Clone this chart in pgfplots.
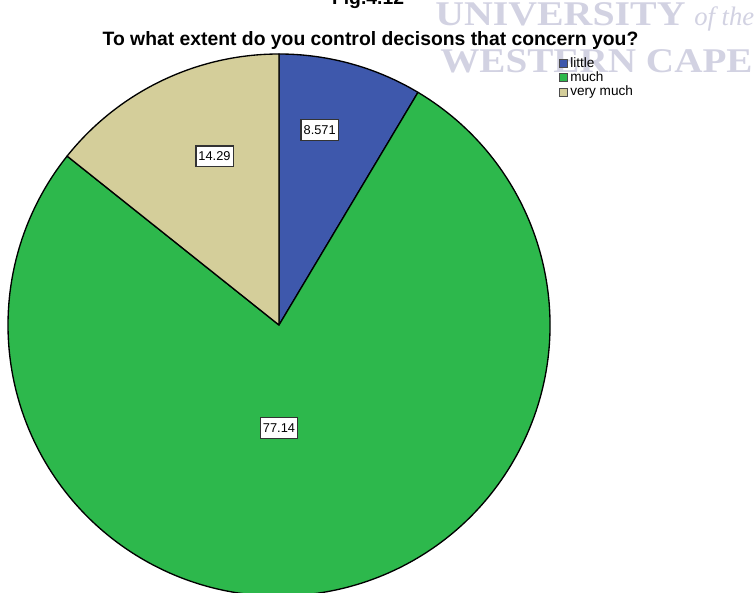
\documentclass[border=0pt]{standalone}
\usepackage{pgfplots}
\pgfplotsset{compat=1.18}
\usepackage{pgfplotstable}
\usepackage{graphicx}
\usepackage{fontspec}
\setmainfont{Liberation Sans}
\newfontfamily\wmfont{Liberation Serif}
\definecolor{pieblue}{RGB}{62,88,172}
\definecolor{piegreen}{RGB}{45,184,76}
\definecolor{pietan}{RGB}{212,206,154}
\definecolor{wm}{RGB}{210,210,226}

\pgfplotstableread{
label value
little 8.571
much 77.14
verymuch 14.29
}\piedata

\begin{document}
\begin{tikzpicture}
\pgfplotstablegetelem{0}{value}\of\piedata \let\va\pgfplotsretval
\pgfplotstablegetelem{1}{value}\of\piedata \let\vb\pgfplotsretval
\pgfplotstablegetelem{2}{value}\of\piedata \let\vc\pgfplotsretval
\pgfmathsetmacro\aA{90-3.6*\va}
\pgfmathsetmacro\aB{\aA-3.6*\vb}
\pgfmathsetmacro\aC{\aB-3.6*\vc}
\def\R{203.25pt}
\begin{axis}[x=0.75pt,y=0.75pt,xmin=0,xmax=755,ymin=0,ymax=592,
  hide axis,scale only axis,clip=false]
% watermark
\node[anchor=base west, text=wm, inner sep=0] at (axis cs:435,566)
  {\wmfont\fontsize{26pt}{30pt}\selectfont\bfseries\scalebox{1.15}[1]{UNIVERSITY}\ \mdseries\itshape\fontsize{20pt}{22pt}\selectfont of the};
\node[anchor=base west, text=wm, inner sep=0] at (axis cs:440,519)
  {\wmfont\fontsize{26pt}{30pt}\selectfont\bfseries\scalebox{1.13}[1]{WESTERN CAPE}};
% titles
\node[anchor=base, inner sep=0] at (axis cs:368,587)
  {\fontsize{14.5pt}{17pt}\selectfont\bfseries Fig.4.12};
\node[anchor=base, inner sep=0] at (axis cs:370.5,546)
  {\fontsize{14.5pt}{17pt}\selectfont\bfseries To what extent do you control decisons that concern you?};
% pie
\filldraw[fill=pieblue, draw=black, line width=1pt, line join=round]
  (axis cs:279,267) -- ++(90:\R) arc[start angle=90, end angle=\aA, radius=\R] -- cycle;
\filldraw[fill=piegreen, draw=black, line width=1pt, line join=round]
  (axis cs:279,267) -- ++(\aA:\R) arc[start angle=\aA, end angle=\aB, radius=\R] -- cycle;
\filldraw[fill=pietan, draw=black, line width=1pt, line join=round]
  (axis cs:279,267) -- ++(\aB:\R) arc[start angle=\aB, end angle=\aC, radius=\R] -- cycle;
% value labels
\tikzset{vlab/.style={draw=black!80, line width=1pt, fill=white, inner sep=0pt,
  minimum width=28pt, minimum height=15.5pt,
  font=\fontsize{9.6pt}{11pt}\selectfont}}
\node[vlab] at (axis cs:319.7,462) {8.571};
\node[vlab] at (axis cs:214.5,435.5) {14.29};
\node[vlab] at (axis cs:279,164) {77.14};
% legend
\filldraw[fill=pieblue, draw=black!70, line width=0.6pt] (axis cs:559,525) rectangle (axis cs:567,533);
\filldraw[fill=piegreen, draw=black!70, line width=0.6pt] (axis cs:559,511) rectangle (axis cs:567,519);
\filldraw[fill=pietan, draw=black!70, line width=0.6pt] (axis cs:559,496) rectangle (axis cs:567,504);
\tikzset{llab/.style={anchor=west, inner sep=0pt, font=\fontsize{10.2pt}{11pt}\selectfont}}
\node[llab] at (axis cs:570,529) {little};
\node[llab] at (axis cs:570,515) {much};
\node[llab] at (axis cs:570,500) {very much};
\end{axis}
\pgfresetboundingbox
\path[use as bounding box] (current axis.south west) rectangle (current axis.north east);
\end{tikzpicture}
\end{document}
